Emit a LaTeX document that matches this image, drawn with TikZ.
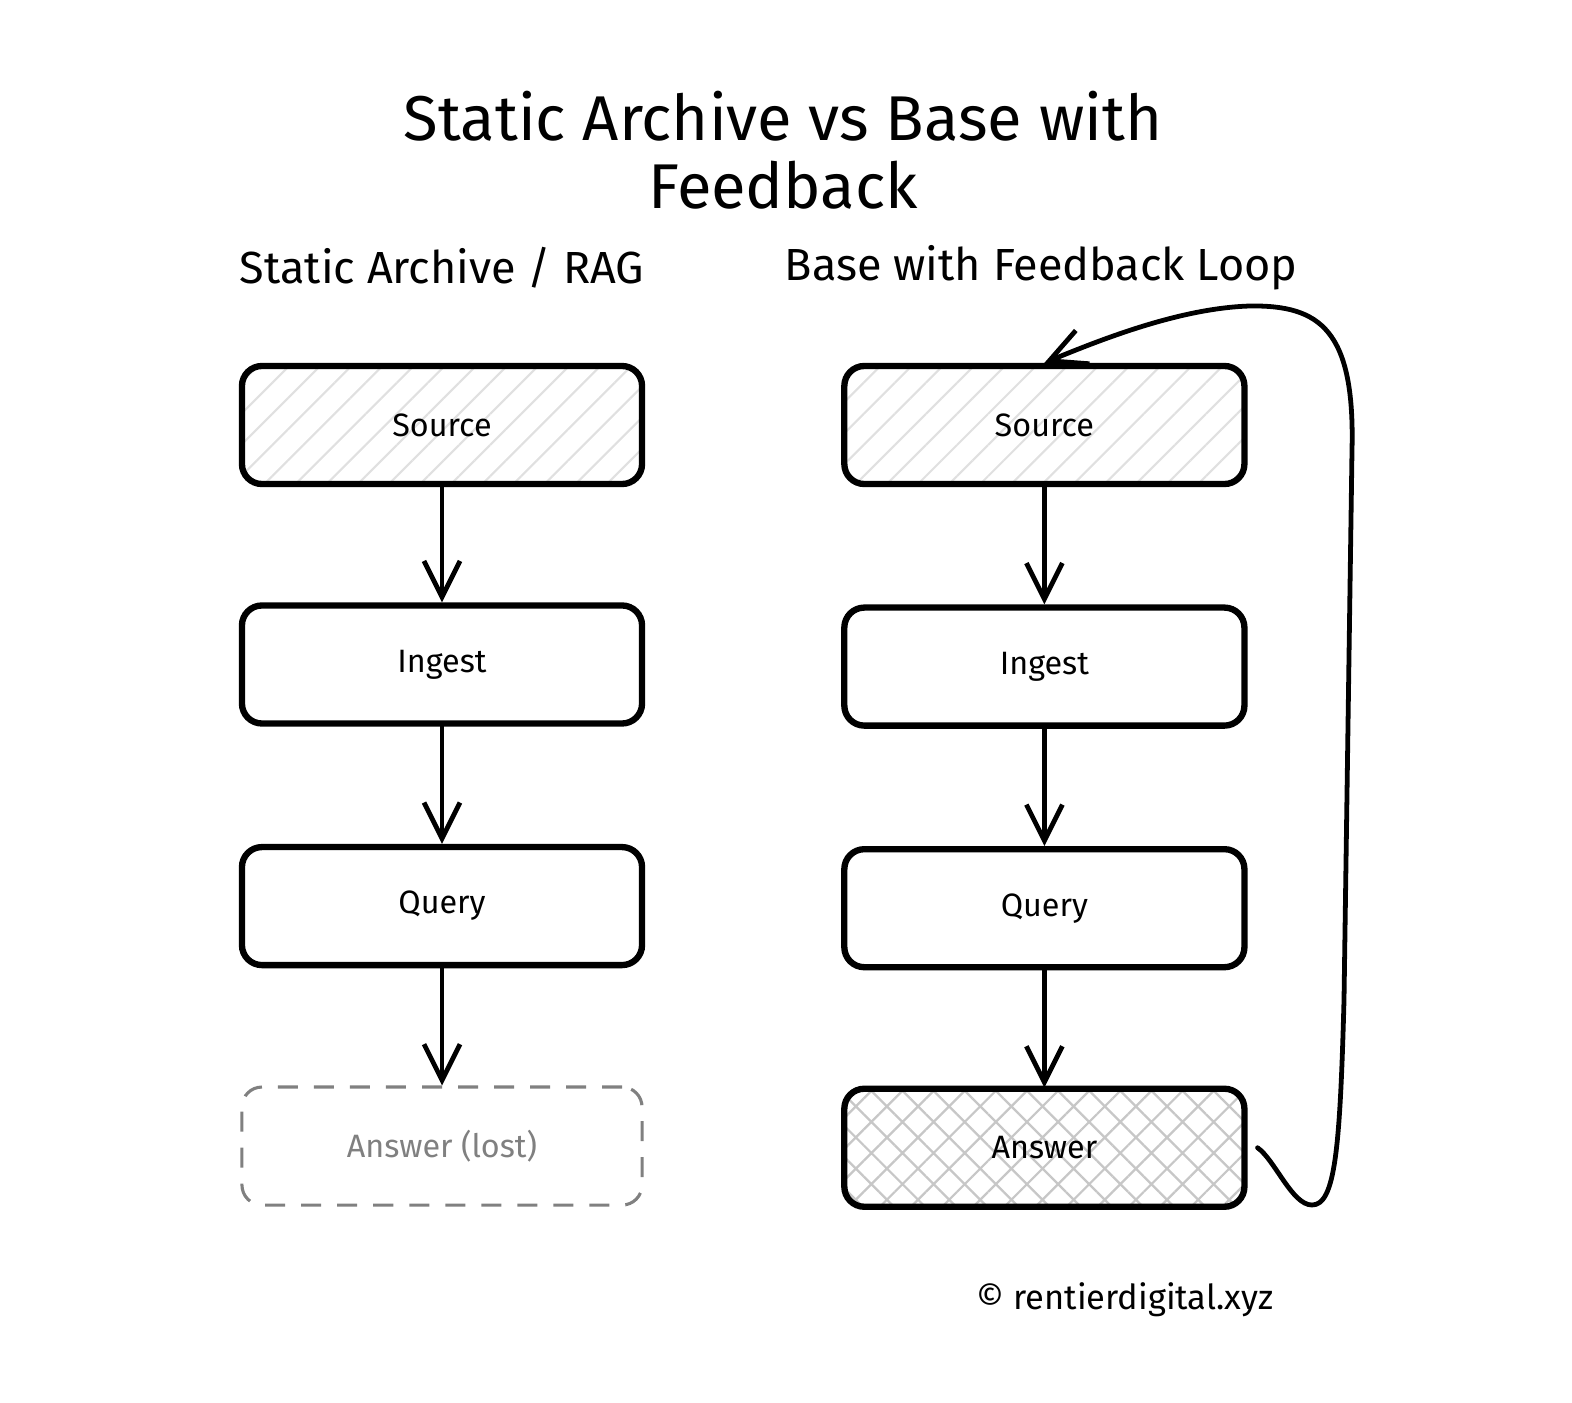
\documentclass[tikz,border=0pt]{standalone}
\usepackage{fontspec}
\setmainfont{Fira Sans}
\usetikzlibrary{positioning,arrows.meta,patterns.meta}

\begin{document}
\begin{tikzpicture}[x=0.025cm, y=-0.025cm, node distance=2.93cm and 4.95cm,
	box/.style={draw, line width=4.5pt, rounded corners=5mm, minimum width=10cm, minimum height=2.95cm, font=\fontsize{23}{27}\selectfont},
	hatched/.style={box, pattern={Lines[angle=45, distance=5.5mm, line width=1.5pt]}, pattern color=black!12},
	crossed/.style={box, pattern={Hatch[angle=45, distance=5.5mm, line width=1.6pt]}, pattern color=black!22},
	lost/.style={box, draw=black!50, text=black!50, line width=2.2pt, dash pattern=on 5mm off 4mm},
	flow/.style={-{Straight Barb[length=9mm, width=9mm, line width=3.4pt]}, line width=3.4pt, line cap=round},
	heading/.style={font=\fontsize{32}{37}\selectfont}]
	\useasboundingbox (0,0) rectangle (1572,1402);
	\node[font=\fontsize{45}{48}\selectfont, align=center] (title) at (783,150) {Static Archive vs Base with\\Feedback};
	\node[hatched] (srcL) at (442,425) {Source};
	\node[box, below=of srcL] (ingL) {Ingest};
	\node[box, below=of ingL] (qryL) {Query};
	\node[lost, below=of qryL] (ansL) {Answer (lost)};
	\node[hatched, right=of srcL] (srcR) {Source};
	\node[box, below=of srcR] (ingR) {Ingest};
	\node[box, below=of ingR] (qryR) {Query};
	\node[crossed, below=of qryR] (ansR) {Answer};
	\node[heading] (headL) at (442,268) {Static Archive / RAG};
	\node[heading] (headR) at (1041,268) {Base with Feedback Loop};
	\node[font=\fontsize{24.5}{28}\selectfont] (credit) at (1125,1300) {© rentierdigital.xyz};
	\draw[flow] (srcL) -- (ingL);
	\draw[flow] (ingL) -- (qryL);
	\draw[flow] (qryL) -- (ansL);
	\draw[flow] (srcR) -- (ingR);
	\draw[flow] (ingR) -- (qryR);
	\draw[flow] (qryR) -- (ansR);
	% feedback loop back to the source
	\draw[flow] ([xshift=3mm]ansR.east) .. controls (1275,1160) and (1292,1205) .. (1312,1205)
		.. controls (1335,1205) and (1340,1150) .. (1344,1000) -- (1352,450)
		.. controls (1355,330) and (1320,305) .. (1250,306)
		.. controls (1180,308) and (1100,340) .. (srcR.north);
\end{tikzpicture}
\end{document}
